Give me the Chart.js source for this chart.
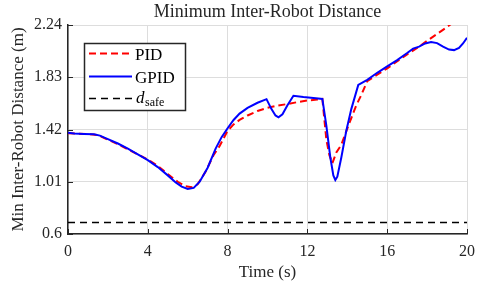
<!DOCTYPE html>
<html>
<head>
<meta charset="utf-8">
<script src="https://cdn.jsdelivr.net/npm/chart.js@4.4.1/dist/chart.umd.min.js"></script>
<style>
html,body{margin:0;padding:0;background:#fff;}
#wrap{width:480px;height:286px;}
</style>
</head>
<body>
<div id="wrap"><canvas id="c" width="480" height="286"></canvas></div>
<script>
// ---- data ----
const pidTime = [0,0.5,1.0,1.5,2.0,2.5,3.0,3.5,4.0,4.5,5.0,5.5,5.9,6.2,6.5,6.9,7.3,7.6,8.0,8.3,8.6,9.0,9.5,10.0,10.5,11.0,11.5,12.0,12.5,12.75,12.95,13.1,13.25,13.45,13.7,14.1,14.45,14.7,15.0,15.5,16.0,16.6,17.0,17.5,18.0,18.5,19.0,19.3];
const pidDist = [1.39,1.387,1.385,1.375,1.34,1.305,1.265,1.225,1.185,1.135,1.07,1.01,0.975,0.967,0.99,1.09,1.22,1.29,1.41,1.46,1.495,1.53,1.565,1.59,1.607,1.62,1.635,1.648,1.655,1.66,1.34,1.22,1.155,1.24,1.3,1.47,1.61,1.69,1.8,1.85,1.9,1.966,2.01,2.06,2.116,2.17,2.224,2.26];
const gpidTime = [0,0.3,0.8,1.3,1.6,2.0,2.5,3.0,3.5,4.0,4.5,5.0,5.4,5.7,6.0,6.3,6.6,7.0,7.4,7.7,8.0,8.3,8.6,9.0,9.5,9.95,10.2,10.4,10.55,10.75,11.0,11.3,11.8,12.3,12.75,12.95,13.15,13.3,13.4,13.5,13.7,13.95,14.2,14.55,15.0,15.5,16.0,16.5,17.0,17.3,17.6,17.9,18.2,18.5,18.8,19.1,19.35,19.6,19.8,20.0];
const gpidDist = [1.395,1.388,1.385,1.382,1.372,1.345,1.31,1.27,1.225,1.18,1.125,1.06,1.005,0.972,0.953,0.962,1.01,1.12,1.27,1.36,1.43,1.495,1.545,1.59,1.63,1.658,1.58,1.53,1.516,1.54,1.61,1.685,1.675,1.668,1.66,1.45,1.2,1.06,1.024,1.05,1.2,1.41,1.58,1.77,1.81,1.865,1.915,1.965,2.02,2.055,2.07,2.095,2.107,2.098,2.07,2.047,2.043,2.06,2.095,2.14];
const safeTime = [0,20];
const dSafe = 0.69;
const xTicks = [0,4,8,12,16,20];
const yTicks = [0.6,1.01,1.42,1.83,2.24];
const yTickLabels = ['0.6','1.01','1.42','1.83','2.24'];
const seriesNames = ['PID','GPID','d_safe'];
const titleText = 'Minimum Inter-Robot Distance';

const SERIF = "'Liberation Serif', 'DejaVu Serif', serif";
const AX = '#262626';

const plotTitle = {
  id:'plotTitle',
  afterDraw(chart){
    const c = chart.ctx, a = chart.chartArea;
    c.save();
    c.fillStyle = AX;
    c.font = "18px " + SERIF;
    c.textAlign = 'center';
    c.textBaseline = 'middle';
    c.fillText(titleText,(a.left+a.right)/2,12.5);
    c.restore();
  }
};

const insideTicks = {
  id:'insideTicks',
  afterDatasetsDraw(chart){
    const c = chart.ctx, a = chart.chartArea;
    const xs = chart.scales.x, ys = chart.scales.y;
    c.save();
    c.strokeStyle = AX; c.lineWidth = 1;
    xTicks.forEach(v=>{
      const px = Math.round(xs.getPixelForValue(v))+0.5;
      c.beginPath(); c.moveTo(px,a.bottom); c.lineTo(px,a.bottom-5); c.stroke();
    });
    yTicks.forEach(v=>{
      const py = Math.round(ys.getPixelForValue(v))+0.5;
      c.beginPath(); c.moveTo(a.left,py); c.lineTo(a.left+5,py); c.stroke();
    });
    c.restore();
  }
};

const boxLegend = {
  id:'boxLegend',
  afterDraw(chart){
    const c = chart.ctx;
    const ds = chart.data.datasets;
    c.save();
    c.fillStyle = '#fff';
    c.fillRect(84.5,43.5,101,67);
    c.strokeStyle = AX; c.lineWidth = 1.5;
    c.strokeRect(84.5,43.5,101,67);
    const rows = [53.5,76.5,98.5];
    rows.forEach((y,i)=>{
      const d = ds[i];
      c.strokeStyle = d.borderColor; c.lineWidth = d.borderWidth;
      c.setLineDash(d.borderDash||[]);
      c.beginPath(); c.moveTo(89,y); c.lineTo(132,y); c.stroke();
      c.setLineDash([]);
      c.fillStyle = '#000';
      c.textBaseline = 'alphabetic';
      if (i < 2) {
        c.font = "17px " + SERIF;
        c.fillText(seriesNames[i],135,y+6);
      } else {
        const parts = seriesNames[i].split('_');
        c.font = "italic 17px " + SERIF;
        c.fillText(parts[0],136,y+4);
        const w = c.measureText(parts[0]).width;
        c.font = "12px " + SERIF;
        c.fillText(parts[1],136+w+0.5,y+7);
      }
    });
    c.restore();
  }
};

new Chart(document.getElementById('c'),{
  type:'line',
  data:{datasets:[
    {label:seriesNames[0], data:pidTime.map((t,i)=>({x:t,y:pidDist[i]})), borderColor:'#ff0000', borderWidth:2, borderDash:[7,4], pointRadius:0, tension:0, fill:false, order:1},
    {label:seriesNames[1], data:gpidTime.map((t,i)=>({x:t,y:gpidDist[i]})), borderColor:'#0000ff', borderWidth:2, pointRadius:0, tension:0, fill:false, order:0},
    {label:seriesNames[2], data:safeTime.map(t=>({x:t,y:dSafe})), borderColor:'#000000', borderWidth:1.5, borderDash:[7,5], pointRadius:0, tension:0, fill:false, order:2}
  ]},
  options:{
    responsive:false, animation:false, devicePixelRatio:1,
    layout:{padding:{left:0,right:13,top:25,bottom:0}},
    plugins:{
      legend:{display:false}, tooltip:{enabled:false}, title:{display:false}
    },
    scales:{
      x:{type:'linear', min:0, max:20,
        afterBuildTicks:s=>{s.ticks = xTicks.map(v=>({value:v}));},
        afterFit:s=>{s.height = 52; s.paddingLeft = 0; s.paddingRight = 0;},
        ticks:{color:AX, font:{family:SERIF,size:16}, padding:8, maxRotation:0, callback:v=>String(v)},
        grid:{color:'#dddddd', lineWidth:1, drawTicks:false},
        border:{display:true, color:AX, width:1.5},
        title:{display:true, text:'Time (s)', color:AX, font:{family:SERIF,size:17}, padding:{top:0,bottom:3}}
      },
      y:{type:'linear', min:0.6, max:2.24,
        afterBuildTicks:s=>{s.ticks = yTicks.map(v=>({value:v}));},
        afterFit:s=>{s.width = 68; s.paddingTop = 0; s.paddingBottom = 0;},
        ticks:{color:AX, font:{family:SERIF,size:16}, padding:6, callback:(v)=>yTickLabels[yTicks.indexOf(v)] ?? String(v)},
        grid:{color:'#dddddd', lineWidth:1, drawTicks:false},
        border:{display:true, color:AX, width:1.5},
        title:{display:true, text:'Min Inter-Robot Distance (m)', color:AX, font:{family:SERIF,size:17}, padding:{top:8,bottom:0}}
      }
    }
  },
  plugins:[insideTicks, boxLegend, plotTitle]
});
</script>
</body>
</html>
